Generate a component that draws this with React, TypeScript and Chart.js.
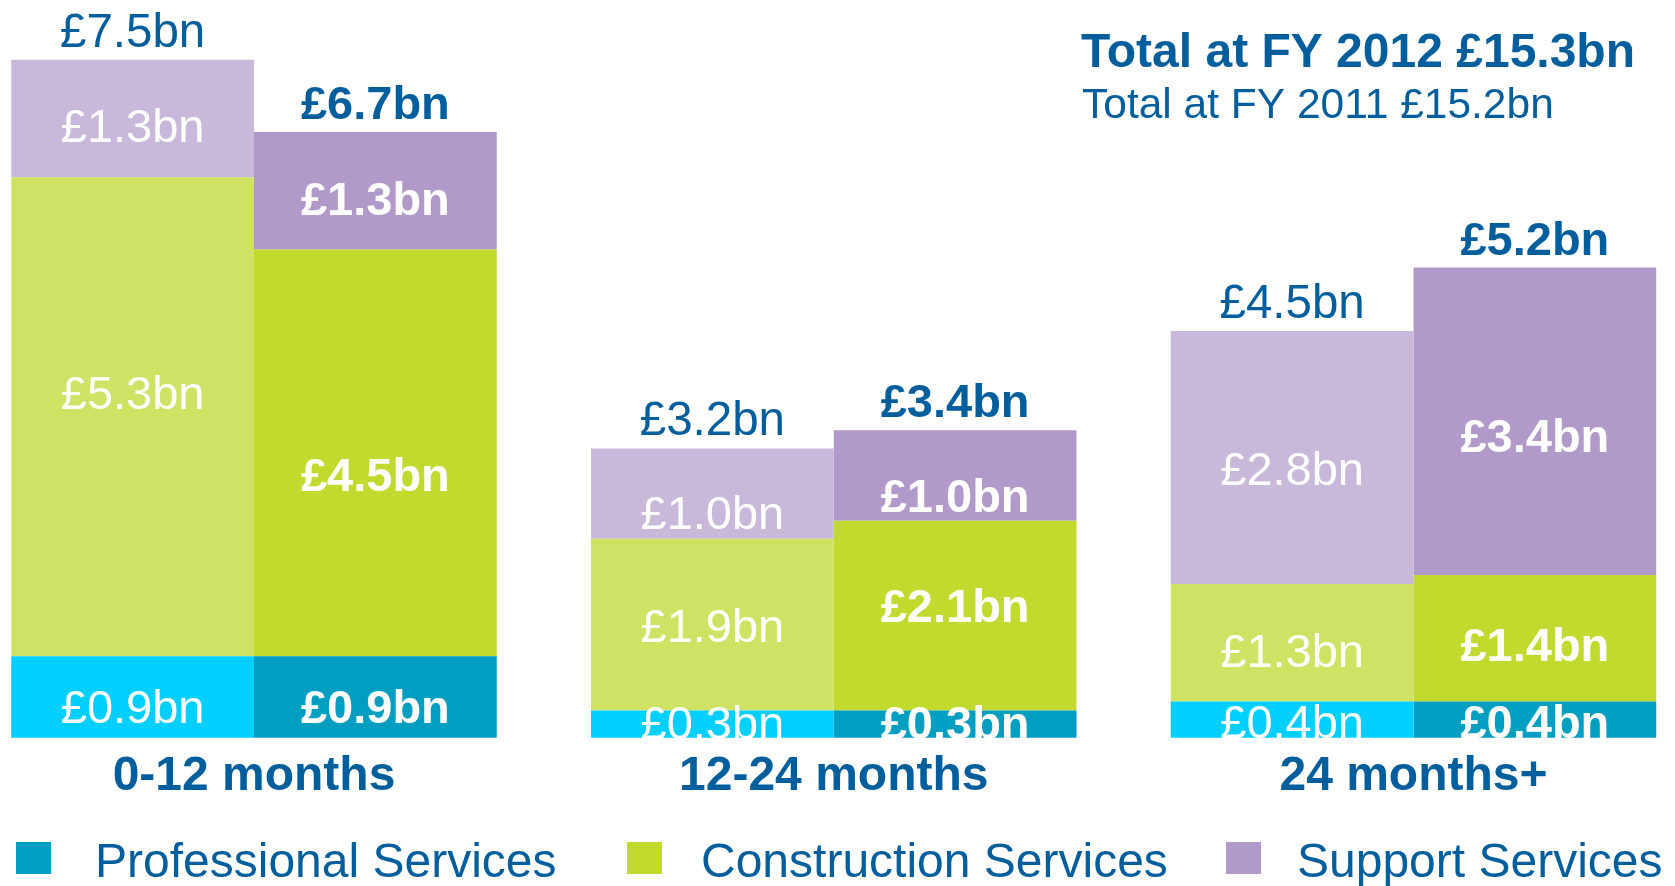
import React, { useEffect, useRef } from "react";
import { Chart, registerables } from "chart.js";

Chart.register(...registerables);

// ---- data ----
const categories = ["0-12 months", "12-24 months", "24 months+"];
const seriesNames = ["Professional Services", "Construction Services", "Support Services"];
const professional2011 = [0.9, 0.3, 0.4];
const construction2011 = [5.3, 1.9, 1.3];
const support2011 = [1.3, 1.0, 2.8];
const professional2012 = [0.9, 0.3, 0.4];
const construction2012 = [4.5, 2.1, 1.4];
const support2012 = [1.3, 1.0, 3.4];

// ---- styles ----
const BLUE = "#005e9c";
const FONT = "'Liberation Sans', Arial, Helvetica, sans-serif";
const colors2011 = ["#00cfff", "#cfe264", "#c8b8da"];
const colors2012 = ["#009fc2", "#c2d92e", "#b19ac9"];
// vertical nudges of in-bar labels (px), [dataset][category]
const labelNudgeY = [
  [9, -2, 2],
  [-25, 0, 7],
  [7, 19, 11],
  [9, -2, 2],
  [21, -10, 6],
  [7, 20, 14],
];

const fmt = (v: number) => "£" + v.toFixed(1) + "bn";

const labelsPlugin = {
  id: "customLabels",
  afterDatasetsDraw(chart: any) {
    const ctx = chart.ctx;
    ctx.save();
    ctx.textAlign = "center";
    ctx.textBaseline = "alphabetic";
    const n = chart.data.datasets.length;
    // in-bar values
    for (let d = 0; d < n; d++) {
      const ds = chart.data.datasets[d];
      const meta = chart.getDatasetMeta(d);
      const bold = ds.stack === "FY2012";
      ctx.font = (bold ? "bold " : "") + "47px " + FONT;
      ctx.fillStyle = "#ffffff";
      meta.data.forEach((bar: any, j: number) => {
        const mid = (bar.y + bar.base) / 2 + labelNudgeY[d][j];
        ctx.fillText(fmt(ds.data[j]), bar.x, mid + 0.358 * 47);
      });
    }
    // totals above stacks (top dataset of each stack)
    const tops = [2, 5];
    tops.forEach((d) => {
      const ds = chart.data.datasets[d];
      const meta = chart.getDatasetMeta(d);
      const bold = ds.stack === "FY2012";
      ctx.font = bold ? "bold 47px " + FONT : "47.5px " + FONT;
      ctx.fillStyle = BLUE;
      meta.data.forEach((bar: any, j: number) => {
        let total = 0;
        for (let k = d - 2; k <= d; k++) total += chart.data.datasets[k].data[j];
        ctx.fillText(fmt(total), bar.x, bar.y - 13);
      });
    });
    // category labels
    ctx.font = "bold 48px " + FONT;
    ctx.fillStyle = BLUE;
    const xs = chart.scales.x;
    categories.forEach((c, i) => {
      ctx.fillText(c, xs.getPixelForValue(i), 790);
    });
    // title block
    const sumOf = (arrs: number[][]) => arrs.reduce((s, a) => s + a.reduce((p, v) => p + v, 0), 0);
    const t2012 = sumOf([professional2012, construction2012, support2012]);
    const t2011 = sumOf([professional2011, construction2011, support2011]);
    ctx.textAlign = "left";
    ctx.font = "bold 48px " + FONT;
    ctx.fillText("Total at FY 2012 " + fmt(t2012), 1081, 67);
    ctx.font = "42.5px " + FONT;
    ctx.fillText("Total at FY 2011 " + fmt(t2011), 1082, 118);
    // legend
    const boxX = [16, 627, 1226];
    const textX = [95, 701, 1297];
    ctx.font = "48px " + FONT;
    seriesNames.forEach((s, i) => {
      ctx.fillStyle = colors2012[i];
      ctx.fillRect(boxX[i], 842, 35, 32);
      ctx.fillStyle = BLUE;
      ctx.fillText(s, textX[i], 877);
    });
    ctx.restore();
  },
};

export default function App() {
  const ref = useRef<HTMLCanvasElement | null>(null);
  useEffect(() => {
    if (!ref.current) return;
    const mk = (label: string, data: number[], color: string, stack: string) => ({
      label,
      data,
      backgroundColor: color,
      borderWidth: 0,
      stack,
      clip: false as any,
      categoryPercentage: 0.8374,
      barPercentage: 1,
    });
    const chart = new Chart(ref.current, {
      type: "bar",
      data: {
        labels: categories,
        datasets: [
          mk(seriesNames[0] + " FY2011", professional2011, colors2011[0], "FY2011"),
          mk(seriesNames[1] + " FY2011", construction2011, colors2011[1], "FY2011"),
          mk(seriesNames[2] + " FY2011", support2011, colors2011[2], "FY2011"),
          mk(seriesNames[0] + " FY2012", professional2012, colors2012[0], "FY2012"),
          mk(seriesNames[1] + " FY2012", construction2012, colors2012[1], "FY2012"),
          mk(seriesNames[2] + " FY2012", support2012, colors2012[2], "FY2012"),
        ],
      },
      options: {
        animation: false,
        responsive: true,
        maintainAspectRatio: false,
        layout: { padding: { left: 254, right: 261.5, top: 14.5, bottom: 148.3 } },
        plugins: { legend: { display: false }, tooltip: { enabled: false } },
        scales: {
          x: { type: "category", stacked: true, offset: false, display: false },
          y: { stacked: true, min: 0, max: 8, display: false },
        },
      },
      plugins: [labelsPlugin],
    });
    return () => chart.destroy();
  }, []);
  return (
    <div style={{ position: "fixed", left: 0, top: 0, width: 1675, height: 886, background: "#fff" }}>
      <canvas ref={ref} />
    </div>
  );
}
